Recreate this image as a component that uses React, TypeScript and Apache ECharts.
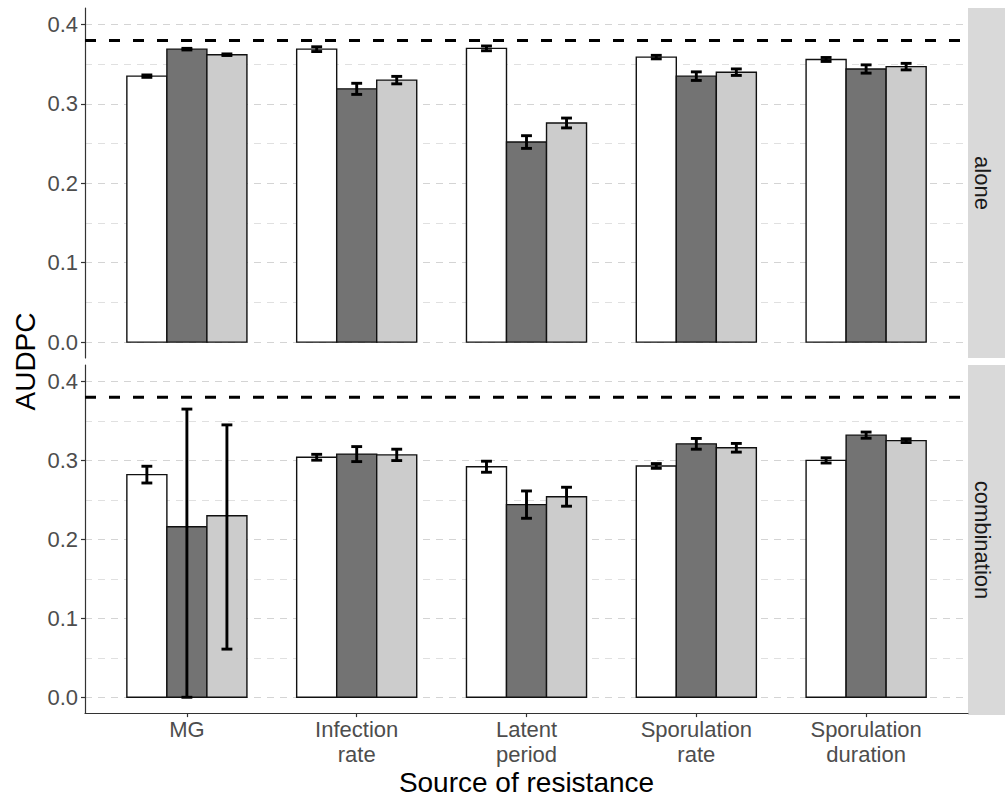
import React, { useEffect, useRef } from "react";
import * as echarts from "echarts";

// ---- data ----
const categories = ["MG", "Infection\nrate", "Latent\nperiod", "Sporulation\nrate", "Sporulation\nduration"];
const panelNames = ["alone", "combination"];
const majorTicks = [0, 0.1, 0.2, 0.3, 0.4];
const minorTicks = [0.05, 0.15, 0.25, 0.35];
const referenceLevel = 0.38;

// alone panel
const aloneWhite = [0.335, 0.369, 0.37, 0.359, 0.356];
const aloneWhiteLo = [0.3335, 0.366, 0.367, 0.3568, 0.3535];
const aloneWhiteHi = [0.3365, 0.372, 0.373, 0.3612, 0.3585];
const aloneDark = [0.369, 0.319, 0.252, 0.335, 0.344];
const aloneDarkLo = [0.368, 0.312, 0.244, 0.3296, 0.3388];
const aloneDarkHi = [0.37, 0.326, 0.26, 0.3404, 0.3492];
const aloneLight = [0.362, 0.33, 0.276, 0.34, 0.347];
const aloneLightLo = [0.361, 0.3253, 0.2698, 0.3359, 0.3429];
const aloneLightHi = [0.363, 0.3347, 0.2822, 0.3441, 0.3511];

// combination panel
const combWhite = [0.282, 0.304, 0.292, 0.293, 0.3];
const combWhiteLo = [0.2714, 0.3003, 0.285, 0.29, 0.2967];
const combWhiteHi = [0.2926, 0.3077, 0.299, 0.296, 0.3033];
const combDark = [0.216, 0.308, 0.244, 0.321, 0.332];
const combDarkLo = [0.0, 0.2985, 0.2267, 0.3142, 0.3281];
const combDarkHi = [0.365, 0.3175, 0.2613, 0.3278, 0.3359];
const combLight = [0.23, 0.307, 0.254, 0.316, 0.325];
const combLightLo = [0.061, 0.2998, 0.242, 0.3105, 0.3226];
const combLightHi = [0.345, 0.3142, 0.266, 0.3215, 0.3274];

const fills = ["#FFFFFF", "#737373", "#CCCCCC"];
const FONT = "'Liberation Sans', Arial, Helvetica, sans-serif";

const BAR_W = 0.2357;
const DODGE_START = -0.3535;
const CAP_HALF = 0.032;
const Y_MIN = -0.02004;
const Y_MAX = 0.42084;

function barData(vals: number[][]) {
  const out: number[][] = [];
  vals.forEach((arr, g) => arr.forEach((v, i) => out.push([i, g, v])));
  return out;
}
function errData(lo: number[][], hi: number[][]) {
  const out: number[][] = [];
  lo.forEach((arr, g) => arr.forEach((l, i) => out.push([i, g, l, hi[g][i]])));
  return out;
}

const panelBars = [
  barData([aloneWhite, aloneDark, aloneLight]),
  barData([combWhite, combDark, combLight]),
];
const panelErrs = [
  errData([aloneWhiteLo, aloneDarkLo, aloneLightLo], [aloneWhiteHi, aloneDarkHi, aloneLightHi]),
  errData([combWhiteLo, combDarkLo, combLightLo], [combWhiteHi, combDarkHi, combLightHi]),
];

const renderBar = (params: any, api: any) => {
  const i = api.value(0);
  const g = api.value(1);
  const v = api.value(2);
  const x0 = i + DODGE_START + g * BAR_W;
  const p0 = api.coord([x0, v]);
  const p1 = api.coord([x0 + BAR_W, 0]);
  return {
    type: "rect",
    shape: { x: p0[0], y: p0[1], width: p1[0] - p0[0], height: p1[1] - p0[1] },
    style: { fill: fills[g], stroke: "#111", lineWidth: 1.4 },
  };
};

const renderErr = (params: any, api: any) => {
  const i = api.value(0);
  const g = api.value(1);
  const lo = api.value(2);
  const hi = api.value(3);
  const xc = i + DODGE_START + (g + 0.5) * BAR_W;
  const pLo = api.coord([xc, lo]);
  const pHi = api.coord([xc, hi]);
  const pL = api.coord([xc - CAP_HALF, lo]);
  const pR = api.coord([xc + CAP_HALF, lo]);
  const w = (pR[0] - pL[0]) / 2;
  const st = { stroke: "#000", lineWidth: 2.9 };
  return {
    type: "group",
    children: [
      { type: "line", shape: { x1: pLo[0], y1: pLo[1], x2: pHi[0], y2: pHi[1] }, style: st },
      { type: "line", shape: { x1: pLo[0] - w, y1: pLo[1], x2: pLo[0] + w, y2: pLo[1] }, style: st },
      { type: "line", shape: { x1: pHi[0] - w, y1: pHi[1], x2: pHi[0] + w, y2: pHi[1] }, style: st },
    ],
  };
};

const GRIDS = [
  { left: 85, top: 8, width: 883, height: 350 },
  { left: 85, top: 365, width: 883, height: 350 },
];

export default function App() {
  const ref = useRef<HTMLDivElement>(null);
  useEffect(() => {
    if (!ref.current) return;
    const chart = echarts.init(ref.current, undefined, { renderer: "svg" });

    const xAxes: any[] = [];
    const yAxes: any[] = [];
    const series: any[] = [];
    const graphics: any[] = [];

    GRIDS.forEach((gr, p) => {
      const isBottom = p === 1;
      xAxes.push({
        type: "value",
        gridIndex: p,
        min: -0.6,
        max: 4.6,
        axisLine: { show: isBottom, onZero: false, lineStyle: { color: "#333", width: 1.2 } },
        axisTick: { show: isBottom, customValues: [0, 1, 2, 3, 4], length: 4, lineStyle: { color: "#333", width: 1.2 } },
        axisLabel: {
          show: isBottom,
          customValues: [0, 1, 2, 3, 4],
          formatter: (v: number) => categories[Math.round(v)],
          color: "#4d4d4d",
          fontSize: 22,
          lineHeight: 25,
          margin: 4,
          fontFamily: FONT,
        },
        splitLine: { show: false },
        name: isBottom ? "Source of resistance" : "",
        nameLocation: "middle",
        nameGap: 51,
        nameTextStyle: { fontSize: 28, color: "#000", fontFamily: FONT },
      });
      // major y
      yAxes.push({
        type: "value",
        gridIndex: p,
        min: Y_MIN,
        max: Y_MAX,
        position: "left",
        axisLine: { show: true, onZero: false, lineStyle: { color: "#333", width: 1.2 } },
        axisTick: { show: true, customValues: majorTicks, length: 4, lineStyle: { color: "#333", width: 1.2 } },
        axisLabel: {
          customValues: majorTicks,
          formatter: (v: number) => v.toFixed(1),
          color: "#4d4d4d",
          fontSize: 22,
          margin: 7,
          fontFamily: FONT,
        },
        splitLine: { show: true, lineStyle: { color: "#d4d4d4", width: 1, type: [7, 6] } },
      });
      // minor y (gridlines only)
      yAxes.push({
        type: "value",
        gridIndex: p,
        min: Y_MIN,
        max: Y_MAX,
        position: "right",
        axisLine: { show: false },
        axisTick: { show: false, customValues: minorTicks },
        axisLabel: { show: false, customValues: minorTicks },
        splitLine: { show: true, lineStyle: { color: "#e0e0e0", width: 1, type: [7, 6] } },
      });

      series.push({
        type: "custom",
        name: panelNames[p] + " bars",
        xAxisIndex: p,
        yAxisIndex: p * 2,
        renderItem: renderBar,
        encode: { x: 0, y: 2 },
        data: panelBars[p],
        z: 2,
      });
      series.push({
        type: "custom",
        name: panelNames[p] + " errors",
        xAxisIndex: p,
        yAxisIndex: p * 2,
        renderItem: renderErr,
        encode: { x: 0, y: [2, 3] },
        data: panelErrs[p],
        z: 3,
      });
      series.push({
        type: "line",
        name: panelNames[p] + " reference",
        xAxisIndex: p,
        yAxisIndex: p * 2,
        data: [
          [-0.6, referenceLevel],
          [4.6, referenceLevel],
        ],
        symbol: "none",
        lineStyle: { color: "#000", width: 3, type: [11, 13] },
        silent: true,
        z: 4,
      });

      // facet strip
      graphics.push({
        type: "rect",
        shape: { x: 968, y: gr.top, width: 37, height: gr.height },
        style: { fill: "#D9D9D9" },
        silent: true,
      });
      graphics.push({
        type: "text",
        x: 982,
        y: gr.top + gr.height / 2,
        rotation: -Math.PI / 2,
        style: {
          text: panelNames[p],
          fontSize: 22,
          fontFamily: FONT,
          fill: "#1a1a1a",
          align: "center",
          verticalAlign: "middle",
        },
        silent: true,
      });
    });

    graphics.push({
      type: "text",
      x: 25.5,
      y: 361.5,
      rotation: Math.PI / 2,
      style: {
        text: "AUDPC",
        fontSize: 28,
        fontFamily: FONT,
        fill: "#000",
        align: "center",
        verticalAlign: "middle",
      },
      silent: true,
    });

    chart.setOption({
      animation: false,
      backgroundColor: "#fff",
      textStyle: { fontFamily: FONT },
      grid: GRIDS.map((g) => ({ ...g, containLabel: false })),
      xAxis: xAxes,
      yAxis: yAxes,
      series,
      graphic: graphics,
    });
    return () => chart.dispose();
  }, []);
  return (
    <div
      ref={ref}
      style={{ position: "fixed", left: 0, top: 0, width: 1005, height: 797, background: "#fff" }}
    />
  );
}
